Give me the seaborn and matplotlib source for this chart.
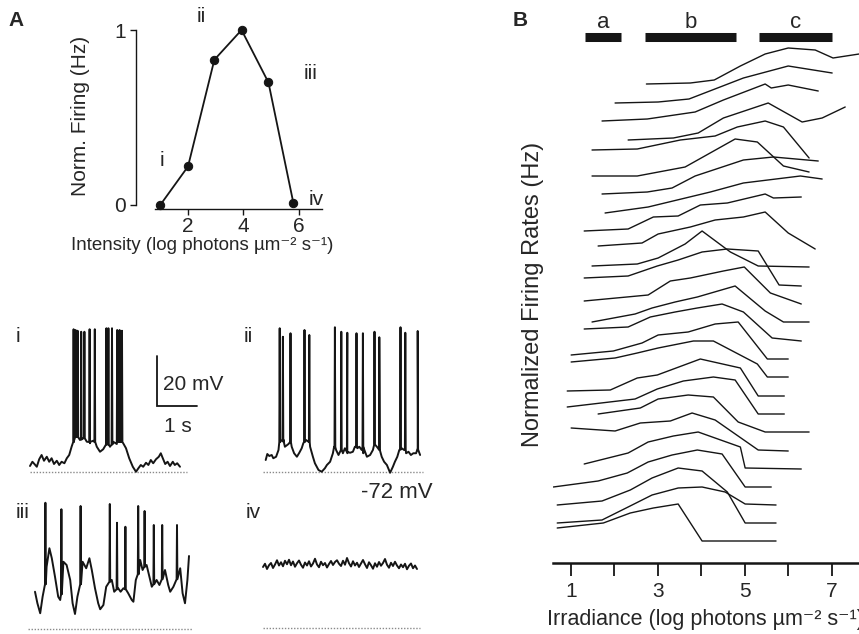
import matplotlib
matplotlib.use("Agg")
import matplotlib.pyplot as plt
import seaborn as sns
import pandas as pd

W, H = 859, 634

# ---------------- data ----------------
# A, top: normalised firing vs light intensity
intensity = [1.0, 2.0, 2.95, 3.93, 4.9, 5.8]
norm_firing = [0.0, 0.22, 0.83, 1.0, 0.70, 0.01]

# A, bottom: example membrane potential traces (time in s, potential in mV)
rest_mv = -72

i_t = [0.00, 0.06, 0.11, 0.17, 0.23, 0.29, 0.35, 0.42, 0.48, 0.54, 0.60, 0.67, 0.73, 0.79,
       0.86, 0.92, 0.98, 1.04, 1.10, 1.17, 1.25, 1.33, 1.42, 1.50, 1.58, 1.67, 1.75, 1.83,
       1.92, 2.00, 2.08, 2.17, 2.25, 2.33, 2.40, 2.48, 2.57, 2.65, 2.71, 2.77, 2.83, 2.90,
       2.96, 3.02, 3.08, 3.15, 3.22, 3.27, 3.32, 3.38, 3.44, 3.50, 3.57, 3.62, 3.68, 3.75]
i_v = [-69.6, -67.9, -68.8, -69.9, -66.9, -65.2, -67.5, -65.9, -67.9, -66.5, -68.8, -67.5,
       -69.2, -67.9, -68.5, -66.5, -65.2, -61.9, -59.5, -57.9, -59.2, -58.5, -59.9, -60.5,
       -59.5, -61.9, -63.9, -62.9, -60.8, -61.9, -59.9, -60.8, -59.9, -60.5, -62.5, -66.5,
       -69.9, -71.9, -70.5, -69.2, -69.9, -68.3, -69.2, -67.2, -68.5, -66.9, -65.9, -64.5,
       -66.5, -68.8, -67.9, -69.6, -67.9, -69.2, -68.5, -69.9]
i_spk_t = [1.08, 1.13, 1.18, 1.27, 1.35, 1.48, 1.61, 1.90, 1.95, 2.04, 2.17, 2.23, 2.29]
i_spk_foot = [-60, -58, -58, -59, -58.5, -60, -60, -61, -61, -61, -60, -60, -60]
i_spk_peak = [-14.9, -15.2, -15.5, -15.9, -15.9, -14.9, -14.9, -14.5, -14.5, -14.5, -15.2,
              -15.2, -15.5]

ii_t = [0.00, 0.04, 0.09, 0.15, 0.19, 0.26, 0.32, 0.36, 0.44, 0.48, 0.57, 0.61, 0.65, 0.71,
        0.78, 0.84, 0.90, 0.94, 1.01, 1.07, 1.11, 1.18, 1.23, 1.32, 1.40, 1.48, 1.53, 1.61,
        1.68, 1.71, 1.76, 1.82, 1.88, 1.93, 1.98, 2.04, 2.11, 2.18, 2.23, 2.29, 2.34, 2.40,
        2.44, 2.53, 2.61, 2.68, 2.71, 2.78, 2.84, 2.90, 2.96, 3.03, 3.11, 3.18, 3.23, 3.29,
        3.34, 3.40, 3.46, 3.51, 3.57, 3.63, 3.69, 3.76, 3.80, 3.86]
ii_v = [-67.2, -64.8, -65.6, -65.2, -66.5, -65.9, -63.2, -58.5, -59.9, -61.9, -60.8, -59.9,
        -61.9, -64.5, -65.9, -64.3, -62.5, -60.5, -59.2, -59.9, -61.9, -65.9, -68.5, -71.2,
        -71.9, -70.5, -69.2, -67.9, -64.5, -61.9, -63.2, -65.2, -63.2, -64.5, -62.5, -64.5,
        -64.3, -63.9, -61.9, -62.5, -61.9, -63.2, -64.5, -65.9, -65.2, -63.2, -61.2, -61.9,
        -63.2, -65.9, -67.9, -69.2, -72.3, -69.9, -67.9, -65.9, -63.2, -62.5, -63.2, -64.5,
        -63.9, -65.2, -64.5, -64.5, -62.9, -65.2]
ii_spk_t = [0.34, 0.42, 0.61, 0.96, 1.08, 1.72, 1.88, 2.03, 2.26, 2.42, 2.71, 2.83, 3.36,
            3.48, 3.79]
ii_spk_foot = [-60, -59, -60, -60, -60, -62, -63, -64, -62, -62, -61, -63, -63, -63, -63]
ii_spk_peak = [-14.5, -17.9, -16.5, -15.2, -17.2, -14.1, -15.9, -16.3, -16.5, -16.5, -15.9,
               -18.1, -14.1, -16.3, -15.6]

iii_t = [0.00, 0.06, 0.13, 0.19, 0.29, 0.36, 0.42, 0.50, 0.58, 0.63, 0.71, 0.79, 0.88, 0.94,
         1.00, 1.06, 1.19, 1.28, 1.36, 1.42, 1.50, 1.58, 1.63, 1.71, 1.78, 1.92, 1.98, 2.08,
         2.14, 2.21, 2.33, 2.42, 2.46, 2.52, 2.63, 2.69, 2.79, 2.88, 2.92, 3.04, 3.11, 3.25,
         3.33, 3.38, 3.46, 3.63, 3.69, 3.75, 3.81, 3.85]
iii_v = [-57.0, -61.6, -65.6, -59.0, -47.0, -39.6, -43.6, -51.0, -59.0, -60.3, -45.0, -46.3,
         -52.3, -61.6, -65.9, -59.0, -45.0, -47.6, -43.6, -48.3, -55.6, -61.6, -64.0, -62.3,
         -55.0, -52.3, -57.0, -55.6, -57.0, -55.6, -57.6, -60.3, -61.0, -52.3, -44.3, -48.3,
         -46.3, -52.3, -55.0, -52.3, -54.3, -48.3, -54.3, -57.0, -55.0, -47.6, -57.6, -61.6,
         -52.3, -42.7]
iii_spk_t = [0.25, 0.65, 1.13, 1.86, 2.04, 2.25, 2.57, 2.73, 2.96, 3.17, 3.54]
iii_spk_foot = [-54, -58, -54, -53, -56, -56, -50, -47, -54, -52, -52]
iii_spk_peak = [-21.4, -24.0, -22.7, -21.9, -29.4, -31.0, -22.7, -24.7, -30.3, -30.3, -30.3]

iv_dt = 0.05
iv_v = [-47.5, -46.2, -48.3, -46.8, -45.9, -47.9, -46.5, -44.8, -46.9, -45.6, -47.2, -45.0,
        -46.4, -44.6, -46.8, -45.3, -47.4, -46.0, -44.9, -46.6, -47.8, -45.7, -46.9, -45.2,
        -47.3, -46.1, -44.2, -46.5, -47.6, -45.4, -46.8, -45.9, -47.7, -46.3, -45.1, -46.7,
        -45.5, -44.8, -46.2, -47.1, -45.0, -46.6, -43.9, -46.0, -47.3, -45.2, -46.9, -45.8,
        -47.5, -46.1, -44.7, -46.4, -47.9, -45.6, -46.8, -48.2, -46.0, -47.4, -45.5, -47.0,
        -45.9, -44.3, -46.6, -47.8, -45.8, -47.1, -45.4, -46.9, -48.0, -46.5, -47.6, -46.2,
        -48.4, -47.0, -46.1, -48.0, -46.9, -48.3]

# B: stacked irradiance-response curves (x: log irradiance, y: stacked rate, arbitrary units)
irr_x = [
    [2.74, 3.75, 4.30, 4.90, 5.47, 6.00, 6.62, 7.03, 7.63],
    [2.02, 3.01, 3.72, 4.97, 6.00, 7.01],
    [1.72, 2.76, 3.86, 4.51, 5.47, 5.61, 6.00, 6.69],
    [2.32, 3.36, 3.93, 4.51, 5.54, 6.32, 6.78, 7.31],
    [1.49, 2.53, 3.52, 4.32, 4.83, 5.47, 5.89, 6.48],
    [1.49, 2.53, 3.63, 4.78, 5.29, 5.89, 6.48],
    [1.72, 2.76, 3.33, 3.86, 4.97, 5.66, 6.69],
    [1.79, 2.78, 4.21, 4.97, 6.28, 6.78],
    [1.31, 2.32, 2.90, 3.47, 3.98, 4.60, 5.47, 5.66, 6.30],
    [1.63, 2.64, 3.01, 3.75, 4.32, 4.97, 5.47, 6.00, 6.62],
    [1.49, 2.53, 3.01, 3.63, 4.02, 4.67, 5.31, 6.48],
    [1.31, 2.32, 2.99, 3.47, 4.02, 4.60, 5.31, 5.79, 6.30],
    [1.31, 2.78, 3.29, 3.75, 4.51, 4.99, 5.59, 6.30],
    [1.49, 2.48, 2.87, 3.40, 3.91, 4.78, 5.47, 5.89, 6.48],
    [1.31, 2.32, 2.83, 3.40, 3.91, 4.48, 4.97, 5.63, 6.30],
    [1.01, 1.98, 2.64, 3.01, 3.70, 4.32, 4.85, 5.52, 6.00],
    [1.01, 2.02, 2.53, 3.01, 3.82, 4.28, 5.29, 5.52, 6.00],
    [0.92, 1.91, 2.53, 2.99, 3.98, 4.90, 5.31, 5.91],
    [0.92, 2.48, 2.99, 3.59, 4.28, 4.78, 5.31, 5.91],
    [1.63, 2.60, 3.01, 3.70, 4.28, 4.85, 5.47, 6.48],
    [1.01, 2.02, 2.60, 3.29, 3.79, 4.32, 5.31, 6.00],
    [1.31, 2.32, 2.78, 3.36, 3.93, 4.90, 5.01, 6.30],
    [0.60, 1.63, 2.30, 2.78, 3.33, 3.91, 4.48, 5.01, 5.61],
    [0.69, 1.72, 2.37, 2.87, 3.47, 4.02, 4.60, 5.01, 5.72],
    [0.69, 1.72, 2.32, 2.87, 3.47, 4.02, 4.55, 5.01, 5.72],
    [0.69, 1.75, 2.37, 2.90, 3.47, 4.02, 5.72],
]
irr_y = [
    [479, 480, 483, 497, 509, 515, 513, 505, 509],
    [460, 461, 464, 485, 497, 490],
    [442, 444, 451, 463, 479, 475, 478, 472],
    [423, 425, 430, 445, 460, 441, 445, 456],
    [413, 414, 423, 427, 436, 442, 436, 405],
    [387, 387, 396, 424, 421, 397, 391],
    [369, 371, 375, 387, 403, 406, 402],
    [350, 356, 371, 380, 387, 384],
    [332, 334, 346, 347, 358, 360, 369, 365, 366],
    [317, 320, 329, 336, 343, 346, 351, 330, 314],
    [297, 299, 305, 319, 332, 311, 297, 296],
    [285, 287, 297, 303, 311, 314, 312, 278, 277],
    [262, 268, 282, 285, 292, 296, 270, 259],
    [241, 249, 255, 261, 266, 277, 252, 241, 241],
    [234, 236, 246, 251, 255, 259, 251, 225, 222],
    [208, 212, 220, 228, 231, 239, 241, 204, 204],
    [201, 205, 210, 215, 222, 222, 199, 186, 186],
    [172, 173, 185, 188, 204, 195, 167, 167],
    [156, 164, 174, 182, 186, 183, 149, 149],
    [149, 155, 164, 168, 166, 141, 131, 131],
    [135, 132, 140, 142, 150, 143, 113, 112],
    [99, 110, 121, 127, 131, 116, 95, 94],
    [76, 82, 90, 101, 108, 113, 109, 76, 76],
    [58, 62, 73, 85, 95, 92, 71, 40, 40],
    [40, 43, 56, 68, 75, 76, 71, 59, 58],
    [35, 40, 50, 55, 59, 22, 22],
]
range_names = ["a", "b", "c"]
range_lo = [1.33, 2.71, 5.33]
range_hi = [2.16, 4.80, 7.01]

# ---------------- style ----------------
sns.set_style("ticks")
plt.rcParams["font.family"] = ["Liberation Sans", "DejaVu Sans"]
INK = "#151515"
FS = 15

fig = plt.figure(figsize=(W / 100, H / 100), dpi=100)


def px_axes(x0, y0, x1, y1):
    return fig.add_axes([x0 / W, 1 - y1 / H, (x1 - x0) / W, (y1 - y0) / H])


def fig_text(x, y, s, **kw):
    fig.text(x / W, 1 - y / H, s, **kw)


# ---------------- A: intensity-response ----------------
ax = px_axes(155, 30, 322, 209)
sns.lineplot(x=intensity, y=norm_firing, color=INK, lw=1.3, marker="o", markersize=6,
             markeredgecolor=INK, clip_on=False, ax=ax)
ax.set_xlim(0.81, 6.83)
ax.set_ylim(-0.023, 1.0)
ax.set_xticks([2, 4, 6])
ax.set_yticks([0, 1])
sns.despine(ax=ax)
ax.spines["left"].set_position(("outward", 13.7))
ax.spines["left"].set_bounds(0, 1)
for s in ["left", "bottom"]:
    ax.spines[s].set_linewidth(1.0)
    ax.spines[s].set_color(INK)
ax.tick_params(axis="both", length=4, width=1.0, color=INK, labelsize=FS, pad=2)
ax.tick_params(axis="y", pad=3)
for lab, (lx, ly) in zip(["i", "ii", "iii", "iv"],
                         [(1.06, 0.257), (2.47, 1.08), (6.40, 0.754), (6.61, 0.034)]):
    ax.text(lx, ly, lab, fontsize=FS, ha="center", va="center")
fig_text(81, 116, "Norm. Firing (Hz)", rotation=90, fontsize=FS, ha="center", va="center")
fig_text(202, 245, "Intensity (log photons µm⁻² s⁻¹)", fontsize=13.5,
         ha="center", va="center")


# ---------------- A: voltage traces ----------------
def with_spikes(t, v, spk_t, spk_foot, spk_peak, w=0.02):
    pts = list(zip(t, v))
    for st, sf, sp in zip(spk_t, spk_foot, spk_peak):
        pts += [(st, sf), (st + w / 2, sp), (st + w, sf)]
    pts.sort()
    return pd.DataFrame(pts, columns=["t", "v"])


traces = [
    (with_spikes(i_t, i_v, i_spk_t, i_spk_foot, i_spk_peak),
     (25, 320, 195, 480), (-0.125, 4.125), (-75.2, -11.2), (0.0, 3.925)),
    (with_spikes(ii_t, ii_v, ii_spk_t, ii_spk_foot, ii_spk_peak),
     (260, 320, 430, 480), (-0.1425, 4.1075), (-75.2, -11.2), (-0.07, 3.93)),
    (with_spikes(iii_t, iii_v, iii_spk_t, iii_spk_foot, iii_spk_peak),
     (25, 490, 195, 634), (-0.25, 4.0), (-73.9, -16.3), (-0.175, 3.925)),
    (pd.DataFrame({"t": [k * iv_dt for k in range(len(iv_v))], "v": iv_v}),
     (258, 490, 428, 634), (-0.125, 4.125), (-74.3, -16.7), (0.0, 3.925)),
]
trace_axes = []
for df, box, xl, yl, rest_span in traces:
    tax = px_axes(*box)
    tax.hlines(rest_mv, *rest_span, colors="#8a8a8a", linestyles=(0, (1, 1.2)), lw=1.0)
    sns.lineplot(data=df, x="t", y="v", sort=False, estimator=None, color=INK, lw=1.4,
                 ax=tax)
    tax.set_xlim(*xl)
    tax.set_ylim(*yl)
    tax.axis("off")
    trace_axes.append(tax)

# scale bar on trace i
tax = trace_axes[0]
tax.plot([3.175, 3.175, 4.175], [-25.6, -45.6, -45.6], color=INK, lw=1.3, clip_on=False,
         solid_joinstyle="miter")
tax.text(3.325, -36.8, "20 mV", fontsize=FS, ha="left", va="center")
tax.text(3.70, -54.0, "1 s", fontsize=FS, ha="center", va="center")

for lab, (lx, ly) in zip(["i", "ii", "iii", "iv"], [(18, 337), (248, 337), (23, 512), (253, 512)]):
    fig_text(lx, ly, lab, fontsize=FS, ha="center", va="center")
fig_text(433, 492, "-72 mV", fontsize=16, ha="right", va="center")

# ---------------- B: stacked irradiance-response curves ----------------
rows = []
for k, (xs, ys) in enumerate(zip(irr_x, irr_y)):
    for xv, yv in zip(xs, ys):
        rows.append({"cell": k, "irradiance": xv, "rate": yv})
df_b = pd.DataFrame(rows)

axb = px_axes(553, 10, 859, 563)
sns.lineplot(data=df_b, x="irradiance", y="rate", units="cell", estimator=None, sort=False,
             color=INK, lw=1.0, ax=axb)
axb.set_xlim(0.593, 7.627)
axb.set_ylim(0, 553)
for s in ["left", "top", "right"]:
    axb.spines[s].set_visible(False)
axb.spines["bottom"].set_linewidth(1.8)
axb.spines["bottom"].set_color(INK)
axb.set_yticks([])
axb.set_xticks([1, 3, 5, 7])
axb.set_xticks([2, 4, 6], minor=True)
axb.tick_params(axis="x", which="both", length=9.4, width=1.3, color=INK, labelsize=FS,
                pad=4)
axb.set_xlabel("")
axb.set_ylabel("")
for name, lo, hi in zip(range_names, range_lo, range_hi):
    axb.plot([lo, hi], [526, 526], color=INK, lw=6.5, solid_capstyle="butt", clip_on=False)
    axb.text((lo + hi) / 2, 541, name, fontsize=16, ha="center", va="center")

fig_text(533, 294, "Normalized Firing Rates (Hz)", rotation=90, fontsize=17, ha="center",
         va="center")
fig_text(547, 619, "Irradiance (log photons µm⁻² s⁻¹)", fontsize=15.5,
         ha="left", va="center")

# panel letters
fig_text(8, 20, "A", fontsize=15, fontweight="bold", ha="left", va="center")
fig_text(513, 20, "B", fontsize=15, fontweight="bold", ha="left", va="center")

fig.savefig("out.png", dpi=100)
